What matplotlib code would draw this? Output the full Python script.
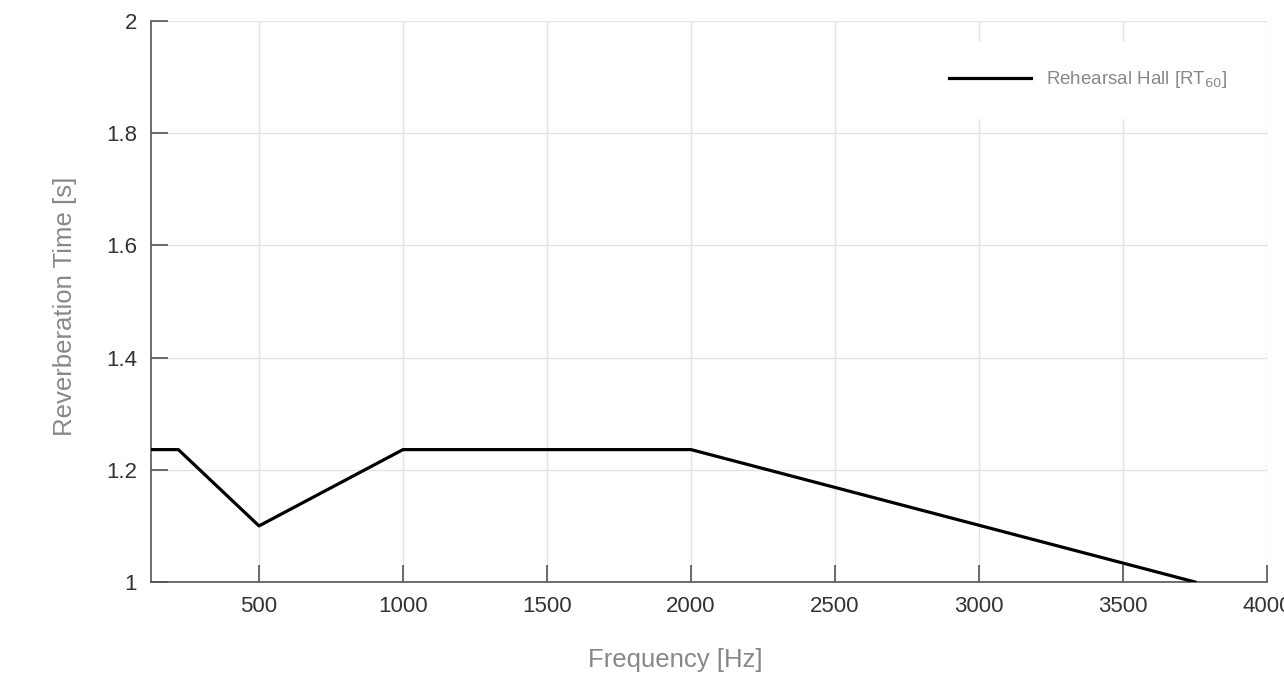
import matplotlib
matplotlib.use("Agg")
import matplotlib.pyplot as plt

freq = [125, 220, 500, 1000, 2000, 3750]
rt60 = [1.236, 1.236, 1.100, 1.236, 1.236, 1.0]
xticks = [500, 1000, 1500, 2000, 2500, 3000, 3500, 4000]
yticks = [1, 1.2, 1.4, 1.6, 1.8, 2]
ytick_labels = ["1", "1.2", "1.4", "1.6", "1.8", "2"]

plt.rcParams['font.family'] = ['Liberation Sans', 'DejaVu Sans']

fig = plt.figure(figsize=(12.84, 6.83), dpi=100)
L, R, T, B = 151, 1267, 21, 582
ax = fig.add_axes([L/1284, 1 - B/683, (R-L)/1284, (B-T)/683])

ax.plot(freq, rt60, color='black', lw=2.3, label='Rehearsal Hall [RT$_{60}$]', zorder=3)
ax.set_xlim(125, 4000)
ax.set_ylim(1, 2)
ax.set_xticks(xticks)
ax.set_yticks(yticks)
ax.set_yticklabels(ytick_labels)
ax.grid(True, color='#e3e3e3', lw=1)
ax.set_axisbelow(True)
for s in ['top', 'right']:
    ax.spines[s].set_visible(False)
for s in ['left', 'bottom']:
    ax.spines[s].set_color('#555555')
    ax.spines[s].set_linewidth(1.2)
ax.tick_params(direction='in', length=12, width=1.2, color='#555555',
               labelsize=16, labelcolor='#333333', pad=10)
ax.set_xlabel('Frequency [Hz]', fontsize=18.5, color='#888888')
ax.xaxis.set_label_coords((675 - L) / (R - L), -(660 - B) / (B - T))
ax.xaxis.label.set_va('center')
ax.set_ylabel('Reverberation Time [s]', fontsize=18.5, color='#888888')
ax.yaxis.set_label_coords(-(L - 65) / (R - L), 1 - (306 - T) / (B - T))
ax.yaxis.label.set_va('center')

leg = ax.legend(loc='center right',
                bbox_to_anchor=((1255 - L) / (R - L), 1 - (80 - T) / (B - T)),
                frameon=True, fontsize=13.5, handlelength=4.4, handletextpad=0.8,
                borderpad=1.45, borderaxespad=0, fancybox=False)
leg.get_frame().set_edgecolor('white')
leg.get_frame().set_facecolor('white')
leg.get_frame().set_alpha(1)
for t in leg.get_texts():
    t.set_color('#888888')

fig.savefig('out.png', dpi=100)
